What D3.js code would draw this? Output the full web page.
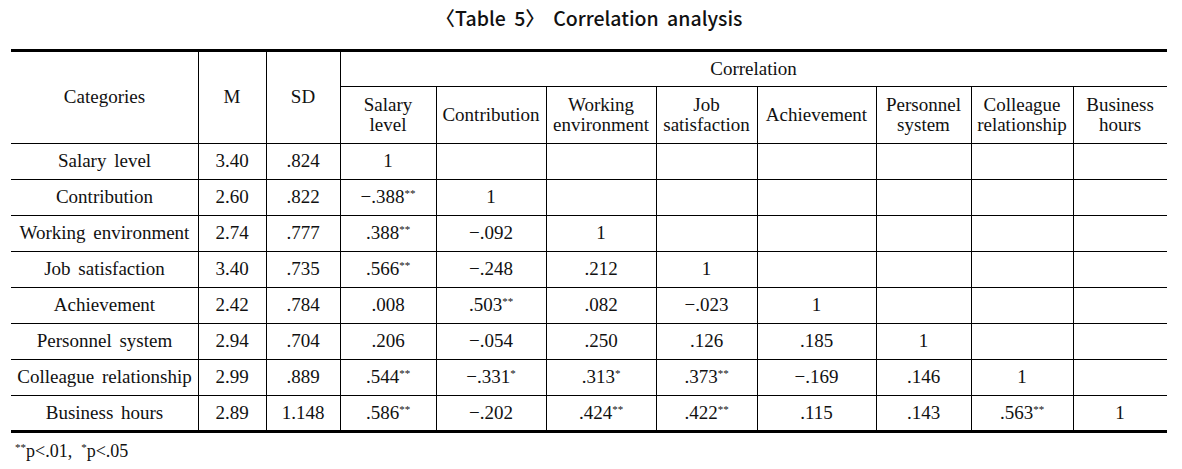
<!DOCTYPE html>
<html>
<head>
<meta charset="utf-8">
<script src="https://cdn.jsdelivr.net/npm/d3@7"></script>
<style>
  body { margin: 0; background: #fff; }
</style>
</head>
<body>
<div class="chart"></div>
<script>
// Table 5, correlation analysis

var title = "\u3008Table 5\u3009 Correlation analysis";
var categories = ["Salary level", "Contribution", "Working environment", "Job satisfaction",
                  "Achievement", "Personnel system", "Colleague relationship", "Business hours"];
var headLabels = [["Salary", "level"], ["Contribution"], ["Working", "environment"], ["Job", "satisfaction"],
                  ["Achievement"], ["Personnel", "system"], ["Colleague", "relationship"], ["Business", "hours"]];
var means = [3.40, 2.60, 2.74, 3.40, 2.42, 2.94, 2.99, 2.89];
var sds   = [.824, .822, .777, .735, .784, .704, .889, 1.148];
// lower triangle, row by row
var corr = [
  [1],
  [-.388, 1],
  [.388, -.092, 1],
  [.566, -.248, .212, 1],
  [.008, .503, .082, -.023, 1],
  [.206, -.054, .250, .126, .185, 1],
  [.544, -.331, .313, .373, -.169, .146, 1],
  [.586, -.202, .424, .422, .115, .143, .563, 1]
];
var stars = [
  [""],
  ["**", ""],
  ["**", "", ""],
  ["**", "", "", ""],
  ["", "**", "", "", ""],
  ["", "", "", "", "", ""],
  ["**", "*", "*", "**", "", "", ""],
  ["**", "", "**", "**", "", "", "**", ""]
];
var footnote = [["**", "p<.01,\u00a0\u00a0"], ["*", "p<.05"]];

var width = 1182, height = 469;
var serif = "'Liberation Serif', 'DejaVu Serif', serif";

var svg = d3.select(".chart").append("svg")
    .attr("width", width)
    .attr("height", height);

// column edges
var edges = [11, 198, 266, 340, 436, 546, 656, 757, 876, 971, 1073, 1167];
var left = edges[0], right = edges[edges.length - 1];
var topY = 50, midY = 86, headBottom = 143, bottomY = 431;

var y = d3.scaleBand()
    .domain(d3.range(categories.length))
    .range([headBottom, bottomY]);

function cx(i) { return (edges[i] + edges[i + 1]) / 2; }

function fmt(v) {
  if (v === 1) return "1";
  var s = d3.format(".3f")(Math.abs(v));
  if (Math.abs(v) < 1) s = s.replace(/^0/, "");
  return (v < 0 ? "\u2212" : "") + s;
}

var fs = 19;

// title
svg.append("text")
    .attr("x", 589)
    .attr("y", 26)
    .attr("text-anchor", "middle")
    .attr("font-family", "'Noto Sans CJK KR', 'Noto Sans', sans-serif")
    .attr("font-weight", 500)
    .attr("font-size", 19.5)
    .attr("word-spacing", 4)
    .attr("fill", "#111")
    .text(title);

// lines
var lines = svg.append("g").attr("stroke", "#000").attr("shape-rendering", "crispEdges");

lines.append("line").attr("x1", left).attr("x2", right).attr("y1", topY).attr("y2", topY).attr("stroke-width", 3);
lines.append("line").attr("x1", left).attr("x2", right).attr("y1", bottomY).attr("y2", bottomY).attr("stroke-width", 3);
lines.append("line").attr("x1", edges[3]).attr("x2", right).attr("y1", midY).attr("y2", midY).attr("stroke-width", 1);

lines.selectAll(".hrow")
    .data(d3.range(categories.length))
    .enter()
    .append("line")
    .attr("x1", left).attr("x2", right)
    .attr("y1", function(d) { return Math.round(y(d)); })
    .attr("y2", function(d) { return Math.round(y(d)); })
    .attr("stroke-width", 1);

lines.selectAll(".vcol")
    .data(edges.slice(1, edges.length - 1))
    .enter()
    .append("line")
    .attr("x1", function(d) { return d; })
    .attr("x2", function(d) { return d; })
    .attr("y1", function(d, i) { return i < 3 ? topY : midY; })
    .attr("y2", bottomY)
    .attr("stroke-width", 1);

// header text
var head = svg.append("g")
    .attr("font-family", serif).attr("font-size", fs).attr("fill", "#111")
    .attr("text-anchor", "middle");
var midHead = (topY + headBottom) / 2;
head.append("text").attr("x", cx(0)).attr("y", midHead + 6).attr("word-spacing", 3).text("Categories");
head.append("text").attr("x", cx(1)).attr("y", midHead + 6).text("M");
head.append("text").attr("x", cx(2)).attr("y", midHead + 6).text("SD");
head.append("text").attr("x", (edges[3] + right) / 2).attr("y", (topY + midY) / 2 + 7).text("Correlation");

head.selectAll(".sub")
    .data(headLabels)
    .enter()
    .append("text")
    .attr("x", function(d, i) { return cx(i + 3); })
    .attr("y", function(d) {
      var c = (midY + headBottom) / 2;
      return d.length === 1 ? c + 6 : c - 4;
    })
    .each(function(d, i) {
      var t = d3.select(this);
      d.forEach(function(w, k) {
        t.append("tspan")
          .attr("x", cx(i + 3))
          .attr("dy", k === 0 ? 0 : 20)
          .text(w);
      });
    });

// body
var body = svg.append("g")
    .attr("font-family", serif).attr("font-size", fs).attr("fill", "#111")
    .attr("text-anchor", "middle");
var rowG = body.selectAll(".row")
    .data(categories)
    .enter()
    .append("g")
    .attr("transform", function(d, i) { return "translate(0," + (y(i) + y.bandwidth() / 2 + 6) + ")"; });

rowG.append("text").attr("x", cx(0)).attr("word-spacing", 3).text(function(d) { return d; });
rowG.append("text").attr("x", cx(1)).text(function(d, i) { return d3.format(".2f")(means[i]); });
rowG.append("text").attr("x", cx(2)).text(function(d, i) { return fmt(sds[i]); });

rowG.each(function(d, i) {
  var g = d3.select(this);
  corr[i].forEach(function(v, j) {
    var t = g.append("text").attr("x", cx(j + 3));
    t.append("tspan").text(fmt(v));
    if (stars[i][j]) {
      t.append("tspan")
        .attr("dy", -6)
        .attr("font-size", 11)
        .text(stars[i][j]);
    }
  });
});

// footnote
var fn = svg.append("text")
    .attr("x", 15).attr("y", 457)
    .attr("font-family", serif).attr("font-size", 18).attr("fill", "#111");
footnote.forEach(function(f) {
  fn.append("tspan").attr("dy", -6).attr("font-size", 11).text(f[0]);
  fn.append("tspan").attr("dy", 6).text(f[1]);
});
</script>
</body>
</html>
